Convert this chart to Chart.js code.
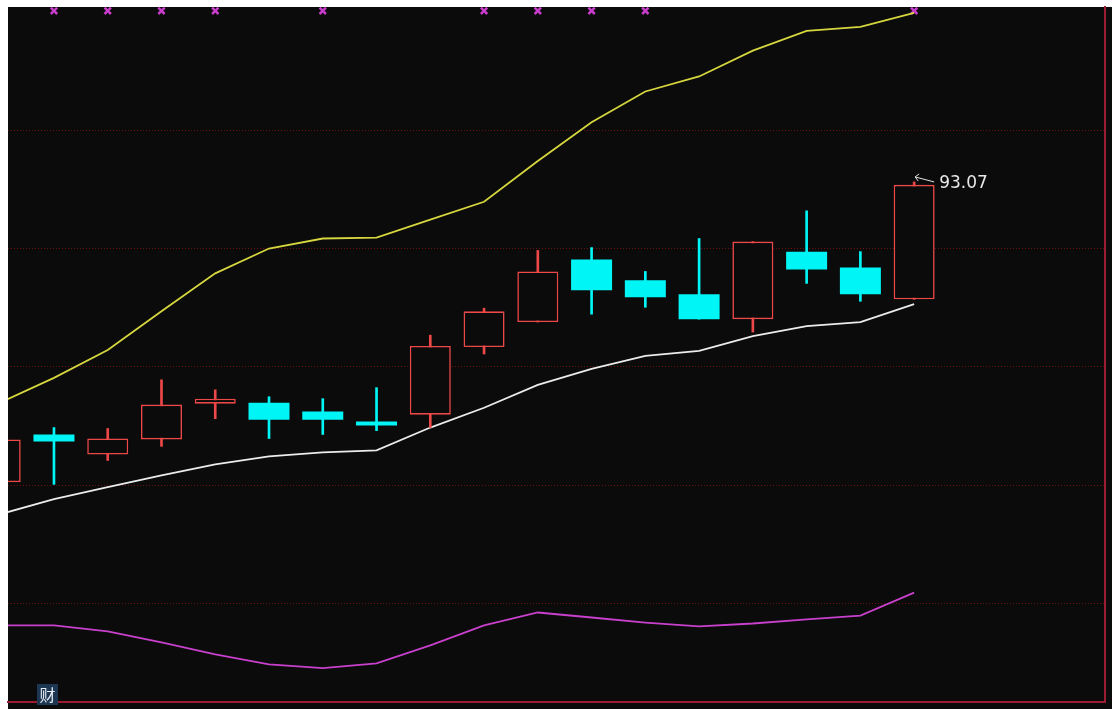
<!DOCTYPE html>
<html>
<head>
<meta charset="utf-8">
<script src="https://cdn.jsdelivr.net/npm/chart.js@4/dist/chart.umd.min.js"></script>
<style>
  html, body { margin: 0; padding: 0; background: #ffffff; overflow: hidden; }
  #wrap { position: absolute; left: 0; top: 0; width: 1112px; height: 709px; }
  #tag { position: absolute; left: 37px; top: 684px; width: 21px; height: 21px; background: #1d3652;
         color: #e8eef6; font: 16px "Noto Sans CJK SC", sans-serif; line-height: 21px; text-align: center; }
</style>
</head>
<body>
<div id="wrap"><canvas id="c"></canvas></div>
<div id="tag">财</div>
<script>
// ---- data ----
const candleIdx = [0,1,2,3,4,5,6,7,8,9,10,11,12,13,14,15,16,17];
const opens  = [80.49,82.49,81.65,82.28,83.78,83.82,83.45,83.03,83.32,86.15,87.20,89.82,88.95,88.36,87.32,90.15,89.49,88.15];
const highs  = [82.28,82.78,82.74,84.78,84.36,84.07,83.99,84.45,86.65,87.78,90.20,90.32,89.32,90.70,90.57,91.86,90.15,93.07];
const lows   = [80.49,80.40,81.40,81.99,83.15,82.32,82.49,82.65,82.78,85.86,87.20,87.53,87.82,87.32,86.78,88.82,88.07,88.15];
const closes = [82.28,82.20,82.32,83.74,83.99,83.11,83.11,82.86,86.20,87.65,89.32,88.53,88.24,87.32,90.57,89.40,88.36,92.95];
const upperBand  = [83.82,84.86,86.03,87.65,89.24,90.28,90.70,90.74,91.49,92.24,93.95,95.57,96.86,97.49,98.57,99.40,99.57,100.15];
const middleBand = [79.15,79.78,80.28,80.78,81.24,81.57,81.74,81.82,82.78,83.61,84.57,85.24,85.78,85.99,86.61,87.03,87.20,87.95];
const lowerBand  = [74.49,74.49,74.24,73.78,73.28,72.86,72.70,72.90,73.65,74.49,75.03,74.82,74.61,74.45,74.57,74.74,74.90,75.86];
const markIdx = [1,2,3,4,6,9,10,11,12,17];
const markLevel = 100.24;
const gridVals = [95.24,90.28,85.32,80.36,75.40];
const yRange = [71.28, 100.40];
const xRange = [0.145, 20.55];

// ---- colours ----
const RED = '#ec4848', CYAN = '#00f6f6', PANEL = '#0b0b0b';
const isUp = i => closes[i] >= opens[i];

const bodyData = candleIdx.map(i => ({x: i, y: [opens[i], closes[i]]}));
const wickData = candleIdx.map(i => ({x: i, y: [lows[i], highs[i]]}));
const lineData = arr => candleIdx.map(i => ({x: i, y: arr[i]}));
const markData = markIdx.map(i => ({x: i, y: markLevel}));

const panelBg = {
  id: 'panelBg',
  beforeDraw(chart) {
    const ctx = chart.ctx;
    ctx.save();
    ctx.fillStyle = PANEL;
    ctx.fillRect(8, 7, chart.width - 8, chart.height - 7);
    ctx.restore();
  }
};

const highLabel = {
  id: 'highLabel',
  afterDatasetsDraw(chart) {
    const {ctx, scales: {x, y}} = chart;
    let hi = 0;
    highs.forEach((v, i) => { if (v > highs[hi]) hi = i; });
    const px = x.getPixelForValue(hi), py = y.getPixelForValue(highs[hi]);
    ctx.save();
    ctx.strokeStyle = '#e4e4e4';
    ctx.lineWidth = 1;
    ctx.beginPath();
    ctx.moveTo(px + 1, py - 5);
    ctx.lineTo(px + 20, py);
    ctx.moveTo(px + 1, py - 5);
    ctx.lineTo(px + 5, py - 8);
    ctx.moveTo(px + 1, py - 5);
    ctx.lineTo(px + 4, py - 1);
    ctx.stroke();
    ctx.fillStyle = '#e8e8e8';
    ctx.font = '17px "DejaVu Sans", sans-serif';
    ctx.textBaseline = 'middle';
    ctx.fillText(highs[hi].toFixed(2), px + 25, py + 2);
    ctx.restore();
  }
};

new Chart(document.getElementById('c'), {
  type: 'bar',
  data: {
    datasets: [
      {
        type: 'bar', label: 'body', data: bodyData, order: 0, grouped: false,
        barThickness: 41, borderSkipped: false, inflateAmount: 0, clip: 0,
        borderWidth: ctx => isUp(ctx.dataIndex) ? 1.6 : 0,
        backgroundColor: ctx => isUp(ctx.dataIndex) ? PANEL : CYAN,
        borderColor: ctx => isUp(ctx.dataIndex) ? RED : CYAN
      },
      {
        type: 'bar', label: 'wick', data: wickData, order: 1, grouped: false,
        barThickness: 2, borderWidth: 0, clip: 0,
        backgroundColor: ctx => isUp(ctx.dataIndex) ? RED : CYAN
      },
      {
        type: 'line', label: 'upper', data: lineData(upperBand), order: 2, clip: 0,
        borderColor: '#d6d63e', borderWidth: 1.8, pointRadius: 0, tension: 0
      },
      {
        type: 'line', label: 'mid', data: lineData(middleBand), order: 2, clip: 0,
        borderColor: '#ececec', borderWidth: 1.8, pointRadius: 0, tension: 0
      },
      {
        type: 'line', label: 'lower', data: lineData(lowerBand), order: 2, clip: 0,
        borderColor: '#c840cc', borderWidth: 1.8, pointRadius: 0, tension: 0
      },
      {
        type: 'line', label: 'marks', data: markData, order: 2, showLine: false,
        pointStyle: 'crossRot', pointRadius: 4.5, pointBorderWidth: 2.5,
        pointBorderColor: '#c83ccc', pointBackgroundColor: '#c83ccc'
      }
    ]
  },
  options: {
    responsive: true,
    maintainAspectRatio: false,
    animation: false,
    events: [],
    layout: { padding: { left: 8, top: 7, right: 6, bottom: 3 } },
    plugins: { legend: { display: false }, tooltip: { enabled: false } },
    scales: {
      x: {
        type: 'linear', min: xRange[0], max: xRange[1], offset: false,
        ticks: { display: false },
        grid: { display: false, drawTicks: false, offset: false },
        border: { display: true, color: '#9c1c34', width: 2 }
      },
      y: {
        type: 'linear', min: yRange[0], max: yRange[1], beginAtZero: false,
        ticks: { display: false },
        afterBuildTicks: s => { s.ticks = gridVals.map(v => ({value: v})); },
        grid: { color: '#6a1010', lineWidth: 1, drawTicks: false },
        border: { display: false, dash: [1, 2] }
      },
      y2: {
        type: 'linear', position: 'right', min: 0, max: 1,
        ticks: { display: false },
        grid: { display: false, drawTicks: false },
        border: { display: true, color: '#9c1c34', width: 2 }
      }
    }
  },
  plugins: [panelBg, highLabel]
});
</script>
</body>
</html>
